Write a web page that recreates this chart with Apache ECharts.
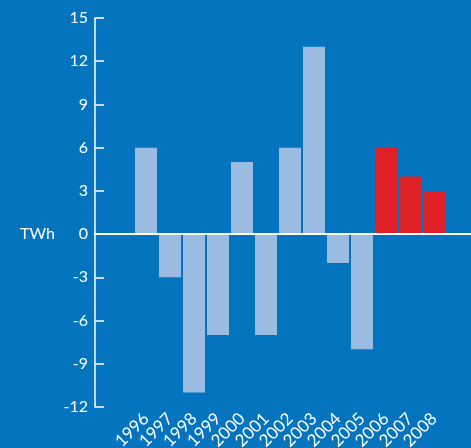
<!DOCTYPE html>
<html><head><meta charset="utf-8">
<script src="https://cdn.jsdelivr.net/npm/echarts@6/dist/echarts.min.js"></script>
<style>html,body{margin:0;padding:0;background:#0474bf;}#c{width:471px;height:448px;}</style>
</head><body><div id="c"></div>
<script>
const years = ['1996','1997','1998','1999','2000','2001','2002','2003','2004','2005','2006','2007','2008'];
const values = [6,-3,-11,-7,5,-7,6,13,-2,-8,6,4,3];
const forecastFrom = '2006';
const yMin = -12, yMax = 15, yStep = 3;
const unitLabel = 'TWh';

const blue = '#9abbe2', red = '#e02027';
const fi = years.indexOf(forecastFrom);
const barData = values.map((v,i)=>({value:v,itemStyle:{color:i>=fi?red:blue}}));

const chart = echarts.init(document.getElementById('c'));
const font = 'Lato, "Open Sans", sans-serif';
chart.setOption({
  backgroundColor:'#0474bf',
  animation:false,
  grid:[
    {left:95,right:0,top:18,bottom:41,containLabel:false,outerBoundsMode:'none'},
    {left:134,width:312,top:18,bottom:41,containLabel:false,outerBoundsMode:'none'}
  ],
  xAxis:[
    {gridIndex:0,type:'value',min:0,max:1,axisLabel:{show:false},axisTick:{show:false},splitLine:{show:false},
     axisLine:{show:true,onZero:true,lineStyle:{color:'#fff',width:2}},z:10},
    {gridIndex:1,type:'category',data:years,axisLine:{show:false,onZero:false},axisTick:{show:false},
     axisLabel:{color:'#fff',rotate:45,fontSize:17,fontFamily:font,margin:9,interval:0}}
  ],
  yAxis:[
    {gridIndex:0,type:'value',min:yMin,max:yMax,interval:yStep,
     axisLine:{show:true,lineStyle:{color:'#fff',width:1.5}},
     axisTick:{show:true,inside:true,length:9,lineStyle:{color:'#fff',width:1.5}},
     axisLabel:{color:'#fff',fontSize:16,fontFamily:font,margin:7},
     splitLine:{show:false}},
    {gridIndex:1,type:'value',min:yMin,max:yMax,interval:yStep,show:false,splitLine:{show:false}}
  ],
  graphic:[{type:'text',left:20,top:226,style:{text:unitLabel,fill:'#fff',font:'16px '+font}}],
  series:[{type:'bar',xAxisIndex:1,yAxisIndex:1,data:barData,barWidth:22,z:2}]
});
</script></body></html>
